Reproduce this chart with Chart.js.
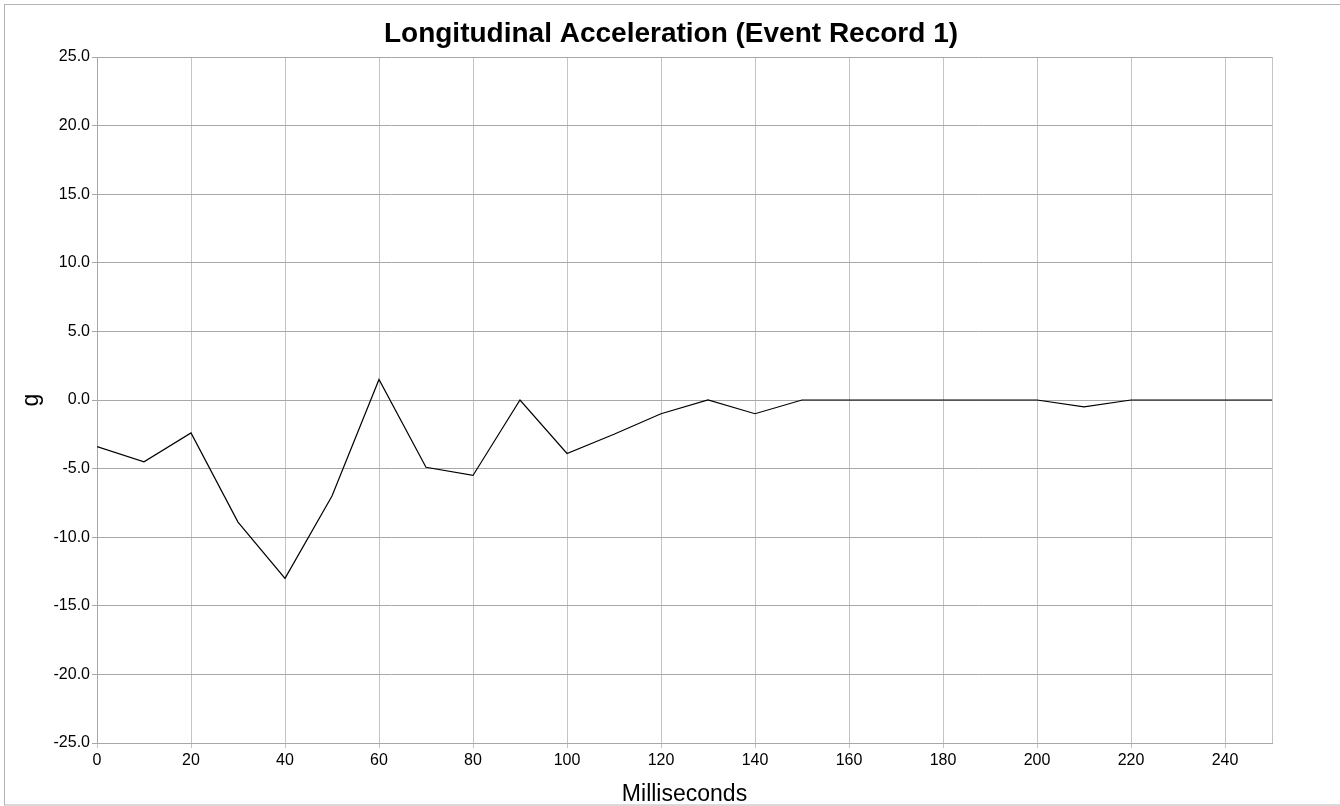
<!DOCTYPE html>
<html>
<head>
<meta charset="utf-8">
<title>Longitudinal Acceleration (Event Record 1)</title>
<script src="https://cdn.jsdelivr.net/npm/chart.js@4/dist/chart.umd.min.js"></script>
<style>
  html, body { margin: 0; padding: 0; background: #ffffff; }
  #wrap { width: 1340px; height: 806px; position: relative; }
</style>
</head>
<body>
<div id="wrap"><canvas id="chart" width="1340" height="806"></canvas></div>
<script>
// Event record 1: time after trigger (ms) and longitudinal acceleration (g)
const timeMs = [0, 10, 20, 30, 40, 50, 60, 70, 80, 90, 100, 110, 120, 130, 140, 150, 160, 170, 180, 190, 200, 210, 220, 230, 240, 250];
const accelG = [-3.4, -4.5, -2.4, -8.9, -13.0, -7.0, 1.5, -4.9, -5.5, 0.0, -3.9, -2.5, -1.0, 0.0, -1.0, 0.0, 0.0, 0.0, 0.0, 0.0, 0.0, -0.5, 0.0, 0.0, 0.0, 0.0];

const chartTitle = 'Longitudinal Acceleration (Event Record 1)';
const xAxisTitle = 'Milliseconds';
const yAxisTitle = 'g';

const FONT = '"Liberation Sans", Arial, Helvetica, sans-serif';

const points = timeMs.map((t, i) => ({ x: t, y: accelG[i] }));

// Frame around the figure and the centred heading
const framePlugin = {
  id: 'frame',
  afterDraw(chart) {
    const ctx = chart.ctx;
    ctx.save();
    ctx.strokeStyle = '#b4b4b4';
    ctx.lineWidth = 1;
    ctx.strokeRect(4.5, 4.5, 1400, 800.5);
    ctx.fillStyle = '#000000';
    ctx.font = 'bold 28px ' + FONT;
    ctx.textAlign = 'center';
    ctx.textBaseline = 'alphabetic';
    ctx.fillText(chartTitle, 671, 42);
    ctx.restore();
  }
};

new Chart(document.getElementById('chart'), {
  type: 'line',
  data: {
    datasets: [{
      data: points,
      borderColor: '#000000',
      borderWidth: 1.2,
      pointRadius: 0,
      pointHoverRadius: 0,
      tension: 0,
      fill: false
    }]
  },
  options: {
    responsive: false,
    animation: false,
    events: [],
    layout: { padding: { left: 5, top: 57, right: 68, bottom: 0 } },
    plugins: {
      legend: { display: false },
      title: { display: false },
      tooltip: { enabled: false }
    },
    scales: {
      x: {
        type: 'linear',
        min: 0,
        max: 250,
        afterFit(scale) { scale.height = 63; },
        ticks: {
          stepSize: 20,
          autoSkip: false,
          maxRotation: 0,
          padding: 3,
          color: '#000000',
          font: { family: FONT, size: 16 },
          callback: (v) => (v % 20 === 0 ? String(v) : '')
        },
        grid: {
          color: '#c4c4c4',
          lineWidth: 1,
          tickLength: 5,
          drawTicks: true,
          tickColor: (ctx) => (ctx.tick && ctx.tick.value % 20 !== 0 ? 'rgba(0,0,0,0)' : '#c4c4c4')
        },
        border: { color: '#a8a8a8', width: 1 },
        title: {
          display: true,
          text: xAxisTitle,
          color: '#000000',
          font: { family: FONT, size: 23 },
          padding: { top: 0, bottom: -2 }
        }
      },
      y: {
        min: -25,
        max: 25,
        afterFit(scale) { scale.width = 92; },
        ticks: {
          stepSize: 5,
          padding: 2,
          color: '#000000',
          font: { family: FONT, size: 16 },
          callback: (v) => Number(v).toFixed(1)
        },
        grid: {
          color: '#a8a8a8',
          lineWidth: 1,
          tickLength: 5,
          drawTicks: true
        },
        border: { color: '#a8a8a8', width: 1 },
        title: {
          display: true,
          text: yAxisTitle,
          color: '#000000',
          font: { family: FONT, size: 23 },
          padding: { top: 13, bottom: 0 }
        }
      }
    }
  },
  plugins: [framePlugin]
});
</script>
</body>
</html>
